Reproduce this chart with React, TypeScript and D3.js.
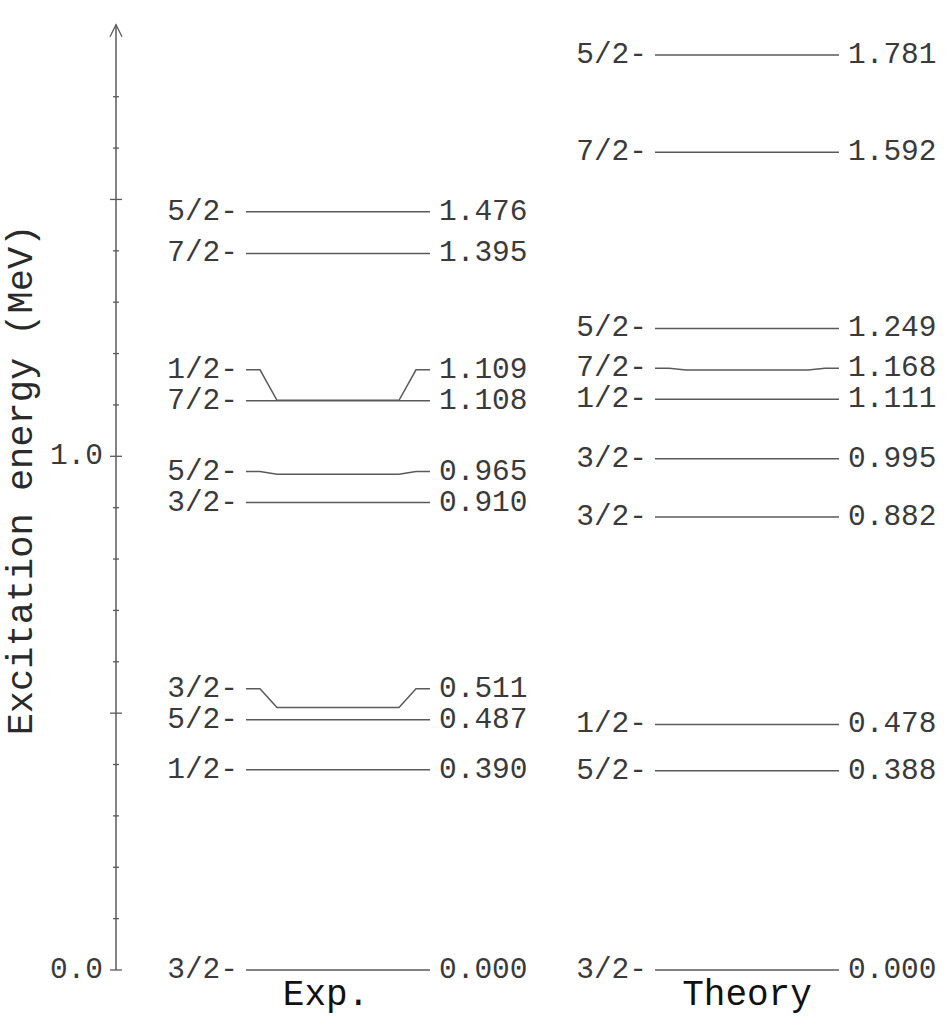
import React from "react";
import * as d3 from "d3";

const columns = ["Exp.", "Theory"];
const expEnergies = [0.0, 0.39, 0.487, 0.511, 0.91, 0.965, 1.108, 1.109, 1.395, 1.476];
const expSpins = ["3/2-", "1/2-", "5/2-", "3/2-", "3/2-", "5/2-", "7/2-", "1/2-", "7/2-", "5/2-"];
const thEnergies = [0.0, 0.388, 0.478, 0.882, 0.995, 1.111, 1.168, 1.249, 1.592, 1.781];
const thSpins = ["3/2-", "5/2-", "1/2-", "3/2-", "3/2-", "1/2-", "7/2-", "5/2-", "7/2-", "5/2-"];
const minorTicks = [0.1, 0.2, 0.3, 0.4, 0.6, 0.7, 0.8, 0.9, 1.1, 1.2, 1.3, 1.4, 1.6, 1.7];
const majorTicks = [0.0, 0.5, 1.0, 1.5];
const labeledTicks = [0.0, 1.0];
const axisTitle = "Excitation energy (MeV)";

const W = 949;
const H = 1019;
const AXIS_X = 116;
const AXIS_TOP_E = 1.84;
const MIN_GAP = 31;
const MONO = "'Liberation Mono', 'DejaVu Sans Mono', monospace";
const LINE_COLOR = "#5a5a5a";
const TEXT_COLOR = "#3a3a3a";
const COLUMN_TITLE_SHIFT = [-12, 0];

const y = d3.scaleLinear().domain([0, 1]).range([970, 456.3]);
const x = d3.scaleBand<string>().domain(columns).range([246, 839]).paddingInner(225 / 409).paddingOuter(0);
const fmt = d3.format(".3f");
const line = d3.line<[number, number]>();

function spread(energies: number[]) {
  const labels: number[] = [];
  energies.forEach((e, i) => {
    const ty = y(e);
    labels.push(i === 0 ? ty : Math.min(ty, labels[i - 1] - MIN_GAP));
  });
  return labels;
}

function Column({ name, idx, energies, spins }: { name: string; idx: number; energies: number[]; spins: string[] }) {
  const x0 = x(name) as number;
  const x1 = x0 + x.bandwidth();
  const labels = spread(energies);
  return (
    <g>
      {energies.map((e, i) => {
        const ty = y(e);
        const ly = labels[i];
        const pts: [number, number][] =
          Math.abs(ly - ty) > 0.5
            ? [
                [x0, ly],
                [x0 + 14, ly],
                [x0 + 31, ty],
                [x1 - 31, ty],
                [x1 - 14, ly],
                [x1, ly],
              ]
            : [
                [x0, ty],
                [x1, ty],
              ];
        return (
          <g key={i}>
            <path d={line(pts) as string} fill="none" stroke={LINE_COLOR} strokeWidth={1.5} />
            <text x={x0 - 8} y={ly} textAnchor="end" dominantBaseline="central" fontSize={29.5} fill={TEXT_COLOR} fontFamily={MONO}>
              {spins[i]}
            </text>
            <text x={x1 + 9} y={ly} textAnchor="start" dominantBaseline="central" fontSize={29.5} fill={TEXT_COLOR} fontFamily={MONO}>
              {fmt(e)}
            </text>
          </g>
        );
      })}
      <text x={(x0 + x1) / 2 + COLUMN_TITLE_SHIFT[idx]} y={1005} textAnchor="middle" fontSize={36} fill="#111" fontFamily={MONO}>
        {name}
      </text>
    </g>
  );
}

export default function App() {
  const top = y(AXIS_TOP_E);
  return (
    <svg width={W} height={H} style={{ position: "absolute", left: 0, top: 0, background: "#fff" }}>
      <rect width={W} height={H} fill="#fff" />
      <line x1={AXIS_X} x2={AXIS_X} y1={y(0)} y2={top} stroke={LINE_COLOR} strokeWidth={1.5} />
      <path d={`M${AXIS_X - 6},${top + 12}L${AXIS_X},${top}L${AXIS_X + 6},${top + 12}`} fill="none" stroke={LINE_COLOR} strokeWidth={1.3} />
      {majorTicks.map((t) => (
        <line key={"M" + t} x1={AXIS_X - 6} x2={AXIS_X + 6} y1={y(t)} y2={y(t)} stroke={LINE_COLOR} strokeWidth={1.3} />
      ))}
      {minorTicks.map((t) => (
        <line key={"m" + t} x1={AXIS_X - 3} x2={AXIS_X + 3} y1={y(t)} y2={y(t)} stroke={LINE_COLOR} strokeWidth={1.3} />
      ))}
      {labeledTicks.map((t) => (
        <text key={"l" + t} x={AXIS_X - 13} y={y(t)} textAnchor="end" dominantBaseline="central" fontSize={29.5} fill={TEXT_COLOR} fontFamily={MONO}>
          {d3.format(".1f")(t)}
        </text>
      ))}
      <text
        transform={`translate(22,480) rotate(-90)`}
        textAnchor="middle"
        dominantBaseline="central"
        fontSize={37}
        fill="#2a2a2a"
        fontFamily={MONO}
      >
        {axisTitle}
      </text>
      <Column name="Exp." idx={0} energies={expEnergies} spins={expSpins} />
      <Column name="Theory" idx={1} energies={thEnergies} spins={thSpins} />
    </svg>
  );
}
